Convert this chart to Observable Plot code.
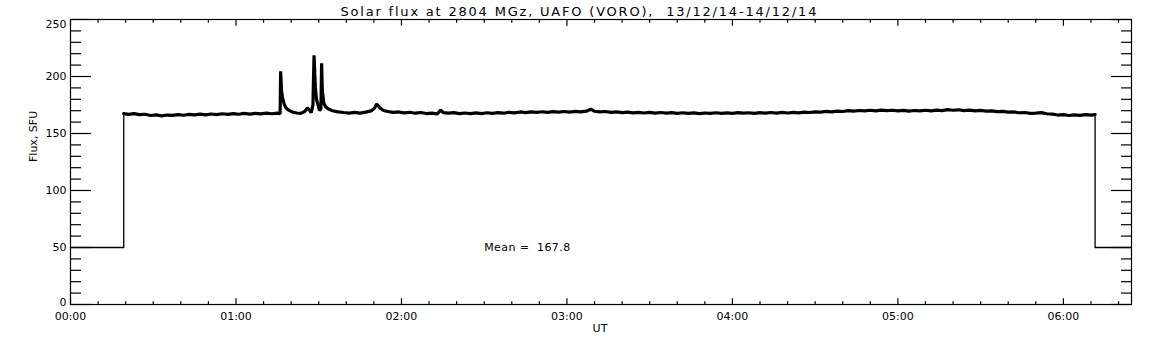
<!DOCTYPE html>
<html><head><meta charset="utf-8">
<script src="https://cdn.jsdelivr.net/npm/d3@7"></script>
<script src="https://cdn.jsdelivr.net/npm/@observablehq/plot@0.6"></script>
<style>body{margin:0;background:#fff}</style>
</head><body><div id="chart"></div>
<script>
const titleText = "Solar flux at 2804 MGz, UAFO (VORO),  13/12/14-14/12/14";
const xLabel = "UT";
const yLabel = "Flux, SFU";
const meanText = "Mean = \u00a0167.8";
const meanPos = {t: 150, v: 50};

// time axis in minutes after 00:00 UT
const startTime = 0;
const endTime = 384.7;
const offLevel = 50;

const xMajor = [0, 60, 120, 180, 240, 300, 360];
const xTickLabels = ["00:00", "01:00", "02:00", "03:00", "04:00", "05:00", "06:00"];
const xMinor = [10,20,30,40,50,70,80,90,100,110,130,140,150,160,170,190,200,210,220,230,250,260,270,280,290,310,320,330,340,350,370,380];
const yMajor = [0, 50, 100, 150, 200, 250];
const yTickLabels = ["0", "50", "100", "150", "200", "250"];
const yMinor = [10,20,30,40,60,70,80,90,110,120,130,140,160,170,180,190,210,220,230,240];

const fluxTimes = [
 19.3,21,23,25,27,29,31,33,35,37,39,41,43,45,47,49,51,53,55,57,59,61,63,65,67,69,71,73,75,
 76.0,76.2,76.5,76.9,77.4,78.0,79.0,80.5,82,83.5,85,85.9,86.6,87.3,87.9,88.3,88.5,88.8,89.2,89.7,90.3,90.8,91.05,91.3,91.8,92.5,93.5,95,97,99,
 101,103,105,107,109,110.3,111,111.7,112.5,113.5,115,117,119,121,123,125,127,129,131,133,134.2,135.2,137,139,
 141,143,145,147,149,151,153,155,157,159,161,163,165,167,169,171,173,175,177,179,181,183,185,187,188.7,190,192,194,196,198,
 200,202,204,206,208,210,212,214,216,218,220,222,224,226,228,230,232,234,236,238,240,242,244,246,248,250,252,254,256,258,
 260,262,264,266,268,270,272,274,276,278,280,282,284,286,288,290,292,294,296,298,300,302,304,306,308,310,312,314,316,318,
 320,322,324,326,328,330,332,334,336,338,340,342,344,346,348,350,352,354,356,358,360,362,364,366,368,370,371.5
];
const fluxValues = [
 167.5,166.8,167.4,166.5,166.9,165.8,166.3,165.4,166.2,165.9,166.6,166.0,166.8,166.3,167.0,166.4,167.1,166.6,167.3,166.8,167.4,166.9,167.6,167.0,167.7,167.2,167.8,167.3,167.9,
 167.4,204.5,188,181,176.5,173,170.5,168.8,168,167.6,169.5,172.5,170.5,168.3,175,218.5,206,190,180,175.5,170,172,211.5,188,177,173.5,171.5,170,169,168.4,
 167.9,168.5,167.9,168.7,169.8,172.5,175.8,174,171.8,170.2,169.3,168.5,168.9,168.1,168.6,167.8,168.4,167.5,167.9,167.2,170.5,168.3,167.8,168.3,
 167.5,168.0,167.4,168.1,167.5,168.2,167.6,168.3,167.8,168.6,168.1,168.9,168.3,169.0,168.5,169.1,168.6,169.2,168.7,169.3,168.8,169.4,168.9,169.6,171.3,169.5,168.9,169.3,168.6,169.0,
 168.3,168.8,168.1,168.6,168.0,168.5,167.9,168.4,167.8,168.3,167.7,168.2,167.6,168.1,167.5,168.0,167.6,168.2,167.7,168.1,167.6,168.3,167.8,168.2,167.7,168.3,167.8,168.4,167.9,168.5,
 168.0,168.6,168.1,168.8,168.4,169.0,168.7,169.4,169.0,169.7,169.3,170.0,169.6,170.2,169.8,170.4,169.9,170.5,170.0,170.4,169.8,170.3,169.7,170.2,169.8,170.4,169.9,170.5,170.1,170.9,
 170.4,170.8,170.1,170.5,169.9,170.3,169.6,169.9,169.2,169.4,168.7,168.9,168.2,168.4,167.7,167.9,168.3,167.3,167.0,166.2,166.5,165.8,166.4,165.9,166.6,166.1,166.5
];

const flux = fluxTimes.map((t, i) => ({t, v: fluxValues[i]}));
const onTime = fluxTimes[0];
const offTime = fluxTimes[fluxTimes.length - 1];
const before = [{t: startTime, v: offLevel}, {t: onTime, v: offLevel}, {t: onTime, v: fluxValues[0]}];
const after = [{t: offTime, v: fluxValues[fluxValues.length - 1]}, {t: offTime, v: offLevel}, {t: endTime, v: offLevel}];

const blank = () => "";
const yMid = yMajor.filter(d => d !== 0 && d !== 250);
const yLab = d => yTickLabels[yMajor.indexOf(d)];
const xLab = d => xTickLabels[xMajor.indexOf(d)];

const chart = Plot.plot({
  width: 1152, height: 345,
  marginLeft: 70, marginRight: 21, marginTop: 19, marginBottom: 41,
  style: {fontFamily: "DejaVu Sans", fontSize: "11px", background: "#fff", color: "#000"},
  x: {domain: [startTime, endTime], label: null},
  y: {domain: [0, 250], label: null},
  marks: [
    Plot.frame({stroke: "#000", strokeWidth: 1.2}),
    Plot.axisY(yMajor, {anchor: "left", tickSize: -21, tickFormat: blank, label: null, strokeWidth: 1.2}),
    Plot.axisY(yMinor, {anchor: "left", tickSize: -11, tickFormat: blank, label: null, strokeWidth: 1.2}),
    Plot.axisY(yMajor, {anchor: "right", tickSize: -21, tickFormat: blank, label: null, strokeWidth: 1.2}),
    Plot.axisY(yMinor, {anchor: "right", tickSize: -11, tickFormat: blank, label: null, strokeWidth: 1.2}),
    Plot.axisX(xMajor, {anchor: "bottom", tickSize: -5.7, tickFormat: blank, label: null, strokeWidth: 1.2}),
    Plot.axisX(xMinor, {anchor: "bottom", tickSize: -2.8, tickFormat: blank, label: null, strokeWidth: 1.2}),
    Plot.axisX(xMajor, {anchor: "top", tickSize: -5.7, tickFormat: blank, label: null, strokeWidth: 1.2}),
    Plot.axisX(xMinor, {anchor: "top", tickSize: -2.8, tickFormat: blank, label: null, strokeWidth: 1.2}),
    Plot.text(yMid, {y: d => d, text: yLab, frameAnchor: "left", textAnchor: "end", dx: -4, lineAnchor: "middle"}),
    Plot.text([250], {y: d => d, text: yLab, frameAnchor: "left", textAnchor: "end", dx: -4, lineAnchor: "top", dy: 0.5}),
    Plot.text([0], {y: d => d, text: yLab, frameAnchor: "left", textAnchor: "end", dx: -4, lineAnchor: "bottom", dy: 1}),
    Plot.text(xMajor, {x: d => d, text: xLab, frameAnchor: "bottom", lineAnchor: "top", dy: 7.5}),
    Plot.text([xLabel], {frameAnchor: "bottom", lineAnchor: "middle", dy: 24, dx: -1}),
    Plot.text([yLabel], {frameAnchor: "left", rotate: -90, dx: -37}),
    Plot.text([titleText], {frameAnchor: "top-left", textAnchor: "start", lineAnchor: "bottom", dx: 270, dy: -4, fontSize: 13}),
    Plot.text([meanText], {x: meanPos.t, y: meanPos.v, textAnchor: "start", lineAnchor: "bottom", dy: 3}),
    Plot.line(before, {x: "t", y: "v", stroke: "#000", strokeWidth: 1.3}),
    Plot.line(after, {x: "t", y: "v", stroke: "#000", strokeWidth: 1.3}),
    Plot.line(flux, {x: "t", y: "v", stroke: "#000", strokeWidth: 3.2, strokeLinejoin: "miter"})
  ]
});
d3.select(chart).selectAll("text").style("white-space", "pre");
d3.select(chart).selectAll("text").filter(function() { return this.textContent.startsWith("Solar"); })
  .style("letter-spacing", "1.8px");
d3.select(chart).selectAll("text").filter(function() { return this.textContent.startsWith("Mean"); })
  .style("letter-spacing", "0.4px");
document.getElementById("chart").appendChild(chart);
</script>
</body></html>
